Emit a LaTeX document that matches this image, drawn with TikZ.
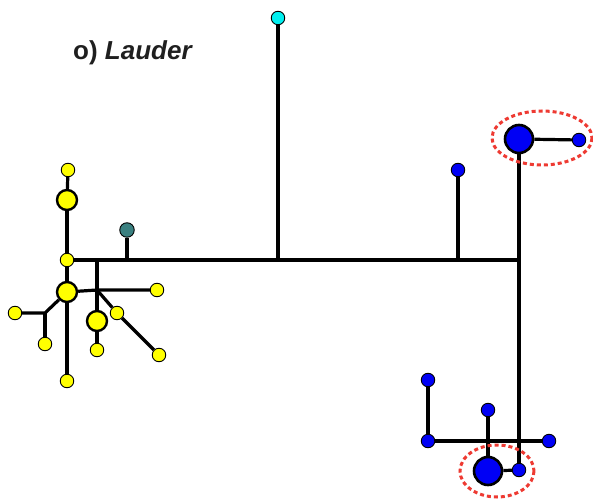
\documentclass[tikz,border=0pt]{standalone}
\usepackage{fontspec}
\setmainfont{Liberation Sans}
\begin{document}
\begin{tikzpicture}[x=1pt,y=-1pt,
  edge/.style={line width=3.2pt,black},
  sm/.style={circle,draw=black,line width=0.9pt,inner sep=0pt,minimum size=13.5pt},
  bigy/.style={circle,draw=black,line width=2.4pt,inner sep=0pt,minimum size=20pt,fill=yel},
  bigb/.style={circle,draw=black,line width=2.6pt,inner sep=0pt,minimum size=28pt,fill=blu},
  ys/.style={sm,fill=yel},
  bs/.style={sm,fill=blu},
  reddash/.style={draw=redd,line width=3pt,dash pattern=on 4pt off 3pt}]
\definecolor{yel}{RGB}{255,255,0}
\definecolor{blu}{RGB}{0,0,245}
\definecolor{cya}{RGB}{0,240,240}
\definecolor{tea}{RGB}{58,128,128}
\definecolor{redd}{RGB}{238,58,50}
\useasboundingbox (0,0) rectangle (593,502);
\fill[white] (0,0) rectangle (593,502);
% junction coordinates
\coordinate (j1) at (97,260);
\coordinate (jt) at (127,260);
\coordinate (jc) at (278,260);
\coordinate (jb) at (458,260);
\coordinate (jr) at (519,260);
\coordinate (j2) at (97,290);
\coordinate (j3) at (45,313);
% nodes
\node[ys] (ya) at (68,170) {};
\node[bigy] (yb) at (67,200) {};
\node[ys] (yc) at (67,260) {};
\node[bigy] (yd) at (67,292) {};
\node[ys] (ye) at (67,381) {};
\node[ys] (yf) at (157,290) {};
\node[ys] (yg) at (117,313) {};
\node[ys] (yh) at (159,355) {};
\node[bigy] (yi) at (97,321) {};
\node[ys] (yj) at (97,350) {};
\node[ys] (yk) at (15,313) {};
\node[ys] (yl) at (45,344) {};
\node[sm,fill=tea,minimum size=14.5pt] (tl) at (127,230) {};
\node[sm,fill=cya] (cy) at (278,18) {};
\node[bs] (ba) at (458,170) {};
\node[bigb] (bb) at (519,139) {};
\node[bs] (bc) at (579,140) {};
\node[bs] (bd) at (428,380) {};
\node[bs] (be) at (428,441) {};
\node[bs] (bf) at (549,441) {};
\node[bs] (bg) at (488,410) {};
\node[bigb] (bh) at (488,471) {};
\node[bs] (bi) at (519,470) {};
% edges
\draw[edge] (yc) -- (j1) -- (jt) -- (jc) -- (jb) -- (jr);
\draw[edge] (ya) -- (yb);
\draw[edge] (yb) -- (yc);
\draw[edge] (yc) -- (yd);
\draw[edge] (yd) -- (ye);
\draw[edge] (yd) -- (j2) -- (yf);
\draw[edge] (j1) -- (j2) -- (yi);
\draw[edge] (yi) -- (yj);
\draw[edge] (j2) -- (yg);
\draw[edge] (yg) -- (yh);
\draw[edge] (yd) -- (j3) -- (yk);
\draw[edge] (j3) -- (yl);
\draw[edge] (tl) -- (jt);
\draw[edge] (cy) -- (jc);
\draw[edge] (ba) -- (jb);
\draw[edge] (bb) -- (bc);
\draw[edge] (bb) -- (bi);
\draw[edge] (bd) -- (be);
\draw[edge] (be) -- (bf);
\draw[edge] (bg) -- (bh);
\draw[edge] (bh) -- (bi);
% highlights
\draw[reddash] (542,138) ellipse [x radius=50, y radius=27];
\draw[reddash] (497,471) ellipse [x radius=37, y radius=26];
% title
\node[anchor=base west,inner sep=0pt,text=black!88,font=\fontsize{26}{30}\selectfont] (title) at (73,60) {\bfseries o) \itshape Lauder};
\end{tikzpicture}
\end{document}
